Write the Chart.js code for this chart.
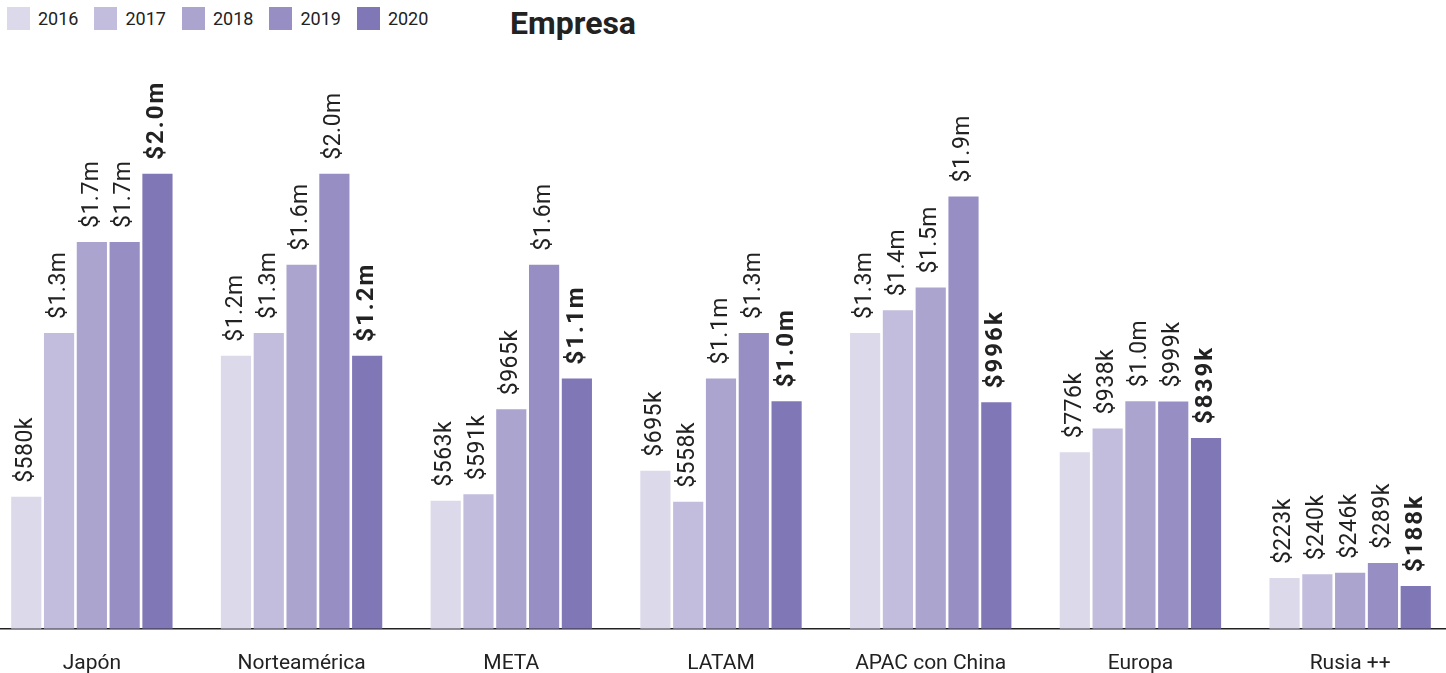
<!DOCTYPE html>
<html>
<head>
<meta charset="utf-8">
<script src="https://cdn.jsdelivr.net/npm/chart.js@4"></script>
<style>
  html, body { margin: 0; padding: 0; background: #fff; overflow: hidden; }
  body { width: 1446px; height: 673px; position: relative; font-family: Roboto, sans-serif; color: #222; }
  #legend { position: absolute; left: 7px; top: 7px; display: flex; font-size: 18px; }
  #legend .item { display: flex; align-items: center; margin-right: 16px; height: 23px; }
  #legend .box { width: 23px; height: 23px; margin-right: 8px; }
  #title { position: absolute; left: 510px; top: 4px; font-size: 32px; font-weight: bold; }
  #wrap { position: absolute; left: -13px; top: 25px; width: 1468px; height: 673px; }
</style>
</head>
<body>
<div id="legend"></div>
<div id="title">Empresa</div>
<div id="wrap"><canvas id="myChart"></canvas></div>
<script>
const regions = ['Japón', 'Norteamérica', 'META', 'LATAM', 'APAC con China', 'Europa', 'Rusia ++'];
const years = ['2016', '2017', '2018', '2019', '2020'];
const colors = ['#dcd9eb', '#c2bddd', '#aba4cf', '#978ec4', '#8077b7'];

// values in thousands of dollars
const v2016 = [580, 1200, 563, 695, 1300, 776, 223];
const v2017 = [1300, 1300, 591, 558, 1400, 880, 240];
const v2018 = [1700, 1600, 965, 1100, 1500, 1000, 246];
const v2019 = [1700, 2000, 1600, 1300, 1900, 999, 289];
const v2020 = [2000, 1200, 1100, 1000, 996, 839, 188];

const t2016 = ['$580k', '$1.2m', '$563k', '$695k', '$1.3m', '$776k', '$223k'];
const t2017 = ['$1.3m', '$1.3m', '$591k', '$558k', '$1.4m', '$938k', '$240k'];
const t2018 = ['$1.7m', '$1.6m', '$965k', '$1.1m', '$1.5m', '$1.0m', '$246k'];
const t2019 = ['$1.7m', '$2.0m', '$1.6m', '$1.3m', '$1.9m', '$999k', '$289k'];
const t2020 = ['$2.0m', '$1.2m', '$1.1m', '$1.0m', '$996k', '$839k', '$188k'];

const values = [v2016, v2017, v2018, v2019, v2020];
const texts = [t2016, t2017, t2018, t2019, t2020];

const datasets = years.map((y, i) => ({
  label: y,
  data: values[i],
  backgroundColor: colors[i],
  categoryPercentage: 0.782,
  barPercentage: 0.92
}));

const valueLabels = {
  id: 'valueLabels',
  afterDatasetsDraw(chart) {
    const ctx = chart.ctx;
    chart.data.datasets.forEach((ds, i) => {
      const meta = chart.getDatasetMeta(i);
      meta.data.forEach((bar, j) => {
        ctx.save();
        ctx.translate(bar.x, bar.y - 14);
        ctx.rotate(-Math.PI / 2);
        if (i === 4) {
          ctx.font = 'bold 24px Roboto';
          ctx.letterSpacing = '2px';
        } else {
          ctx.font = '23px Roboto';
          ctx.letterSpacing = '0.5px';
        }
        ctx.fillStyle = '#222';
        ctx.textAlign = 'left';
        ctx.textBaseline = 'middle';
        ctx.fillText(texts[i][j], 0, 0);
        ctx.restore();
      });
    });
  }
};

const chart = new Chart(document.getElementById('myChart'), {
  type: 'bar',
  data: { labels: regions, datasets: datasets },
  options: {
    responsive: true,
    maintainAspectRatio: false,
    animation: false,
    layout: { padding: { top: 35, left: 0, right: 0, bottom: 0 } },
    plugins: { legend: { display: false }, tooltip: { enabled: false } },
    scales: {
      x: {
        grid: { display: false, drawTicks: false },
        border: { display: true, color: '#222', width: 1.5 },
        ticks: { color: '#222', font: { family: 'Roboto', size: 21 }, padding: 22 }
      },
      y: {
        display: false,
        min: 0,
        max: 2500
      }
    }
  },
  plugins: [valueLabels]
});

// legend built from the chart datasets
const legend = document.getElementById('legend');
chart.data.datasets.forEach(ds => {
  const item = document.createElement('div');
  item.className = 'item';
  const box = document.createElement('span');
  box.className = 'box';
  box.style.background = ds.backgroundColor;
  const txt = document.createElement('span');
  txt.textContent = ds.label;
  item.appendChild(box);
  item.appendChild(txt);
  legend.appendChild(item);
});
</script>
</body>
</html>
